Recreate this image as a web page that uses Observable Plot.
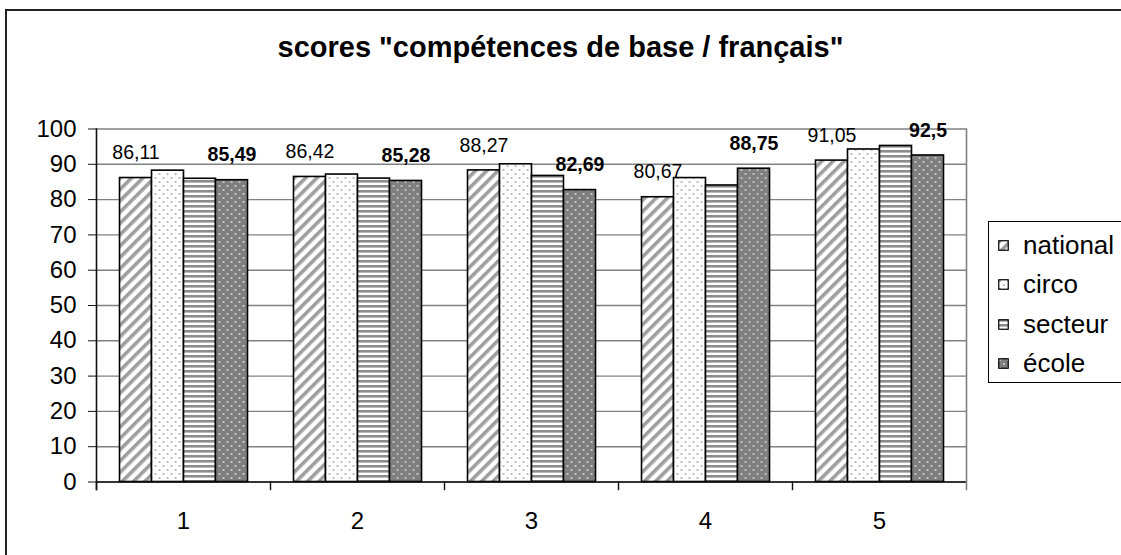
<!DOCTYPE html>
<html>
<head>
<meta charset="utf-8">
<script src="https://cdn.jsdelivr.net/npm/d3@7"></script>
<script src="https://cdn.jsdelivr.net/npm/@observablehq/plot@0.6"></script>
<style>
  html, body { margin: 0; padding: 0; background: #fff; }
  #wrap { position: relative; width: 1121px; height: 555px; overflow: hidden; background: #fff;
          font-family: "Liberation Sans", Arial, sans-serif; }
  #frame { position: absolute; left: 5px; top: 9px; width: 1200px; height: 700px;
           border-top: 2px solid #222; border-left: 2px solid #222; }
  #title { position: absolute; left: 0; width: 1121px; top: 31px; text-align: center;
           font-size: 29px; font-weight: bold; color: #000; }
  #chart { position: absolute; left: 0; top: 0; }
  #legend { position: absolute; left: 988px; top: 221px; width: 150px; height: 160px;
            border: 1px solid #000; background: #fff; }
  .item { position: absolute; left: 9px; height: 28px; display: flex; align-items: center;
          font-size: 26px; color: #000; }
  .item svg { margin-right: 14px; }
</style>
</head>
<body>
<svg width="0" height="0" style="position:absolute">
  <defs>
    <pattern id="pat0" width="8" height="8" patternUnits="userSpaceOnUse" patternTransform="rotate(45)">
      <rect width="8" height="8" fill="#fff"/>
      <rect width="3.6" height="8" fill="#9e9e9e"/>
    </pattern>
    <pattern id="pat1" width="8" height="8" patternUnits="userSpaceOnUse">
      <rect width="8" height="8" fill="#fff"/>
      <circle cx="2" cy="2" r="0.9" fill="#a0a0a0"/>
      <circle cx="6" cy="6" r="0.9" fill="#a0a0a0"/>
    </pattern>
    <pattern id="pat2" width="5" height="5" patternUnits="userSpaceOnUse">
      <rect width="5" height="5" fill="#fff"/>
      <rect width="5" height="2.6" fill="#8c8c8c"/>
    </pattern>
    <pattern id="pat3" width="8" height="8" patternUnits="userSpaceOnUse">
      <rect width="8" height="8" fill="#7f7f7f"/>
      <circle cx="2" cy="2" r="1" fill="#d8d8d8"/>
      <circle cx="6" cy="6" r="1" fill="#d8d8d8"/>
    </pattern>
  </defs>
</svg>
<div id="wrap">
  <div id="frame"></div>
  <div id="title">scores "compétences de base / français"</div>
  <div id="chart"></div>
  <div id="legend"></div>
</div>
<script>
const groups = ["1", "2", "3", "4", "5"];
const seriesNames = ["national", "circo", "secteur", "école"];
const national = [86.11, 86.42, 88.27, 80.67, 91.05];
const circo = [88.2, 87.1, 90.0, 86.1, 94.2];
const secteur = [85.9, 85.95, 86.7, 84.0, 95.2];
const ecole = [85.49, 85.28, 82.69, 88.75, 92.5];
const yTicks = [0, 10, 20, 30, 40, 50, 60, 70, 80, 90, 100];
const plainLabelSeries = "national";
const boldLabelSeries = "école";

const seriesValues = [national, circo, secteur, ecole];
const patterns = seriesNames.map((s, i) => `url(#pat${i})`);
const rows = groups.flatMap((g, i) =>
  seriesNames.map((s, j) => ({group: g, series: s, value: seriesValues[j][i]})));
const fmt = v => String(v).replace(".", ",");

const chart = Plot.plot({
  width: 1000,
  height: 555,
  marginLeft: 94.5,
  marginRight: 32.5,
  marginTop: 128.5,
  marginBottom: 73.5,
  style: {fontFamily: "'Liberation Sans', Arial, sans-serif", background: "transparent", color: "#000"},
  fx: {domain: groups, padding: 0, label: null},
  x: {domain: seriesNames, paddingInner: 0, paddingOuter: 0.7135, axis: null},
  y: {domain: [0, 100], axis: null},
  color: {domain: seriesNames, range: patterns},
  marks: [
    Plot.gridY(yTicks, {stroke: "#808080", strokeOpacity: 1, strokeWidth: 1.4}),
    Plot.barY(rows, {fx: "group", x: "series", y: "value", fill: "series", stroke: "#000", strokeWidth: 1.6}),
    Plot.text(rows.filter(d => d.series === plainLabelSeries),
      {fx: "group", x: "series", y: "value", text: d => fmt(d.value), dy: -25, fontSize: 19.5}),
    Plot.text(rows.filter(d => d.series === boldLabelSeries),
      {fx: "group", x: "series", y: "value", text: d => fmt(d.value), dy: -25, fontSize: 19.5, fontWeight: "bold"}),
    Plot.ruleY([0], {stroke: "#111", strokeWidth: 1.6}),
    Plot.frame({anchor: "left", stroke: "#111", strokeWidth: 1.4, insetTop: 353, insetBottom: -7.5}),
    Plot.frame({anchor: "left", facet: "super", stroke: "#111", strokeWidth: 1.6, insetBottom: -7.5}),
    Plot.frame({anchor: "right", facet: "super", stroke: "#808080", strokeWidth: 1.6, insetBottom: -7.5}),
    Plot.axisY({ticks: yTicks, tickSize: 8, tickPadding: 12, fontSize: 24, label: null, stroke: "#111"}),
    Plot.axisFx({anchor: "bottom", tickSize: 0, tickPadding: 30, fontSize: 24, label: null})
  ]
});
document.getElementById("chart").appendChild(chart);

const legend = document.getElementById("legend");
seriesNames.forEach((s, i) => {
  const item = document.createElement("div");
  item.className = "item";
  item.style.top = (9 + i * 39.5) + "px";
  item.innerHTML = `<svg width="11" height="11"><rect x="0.75" y="0.75" width="9.5" height="9.5" fill="${patterns[i]}" stroke="#000" stroke-width="1.2"/></svg><span>${s}</span>`;
  legend.appendChild(item);
});
</script>
</body>
</html>
